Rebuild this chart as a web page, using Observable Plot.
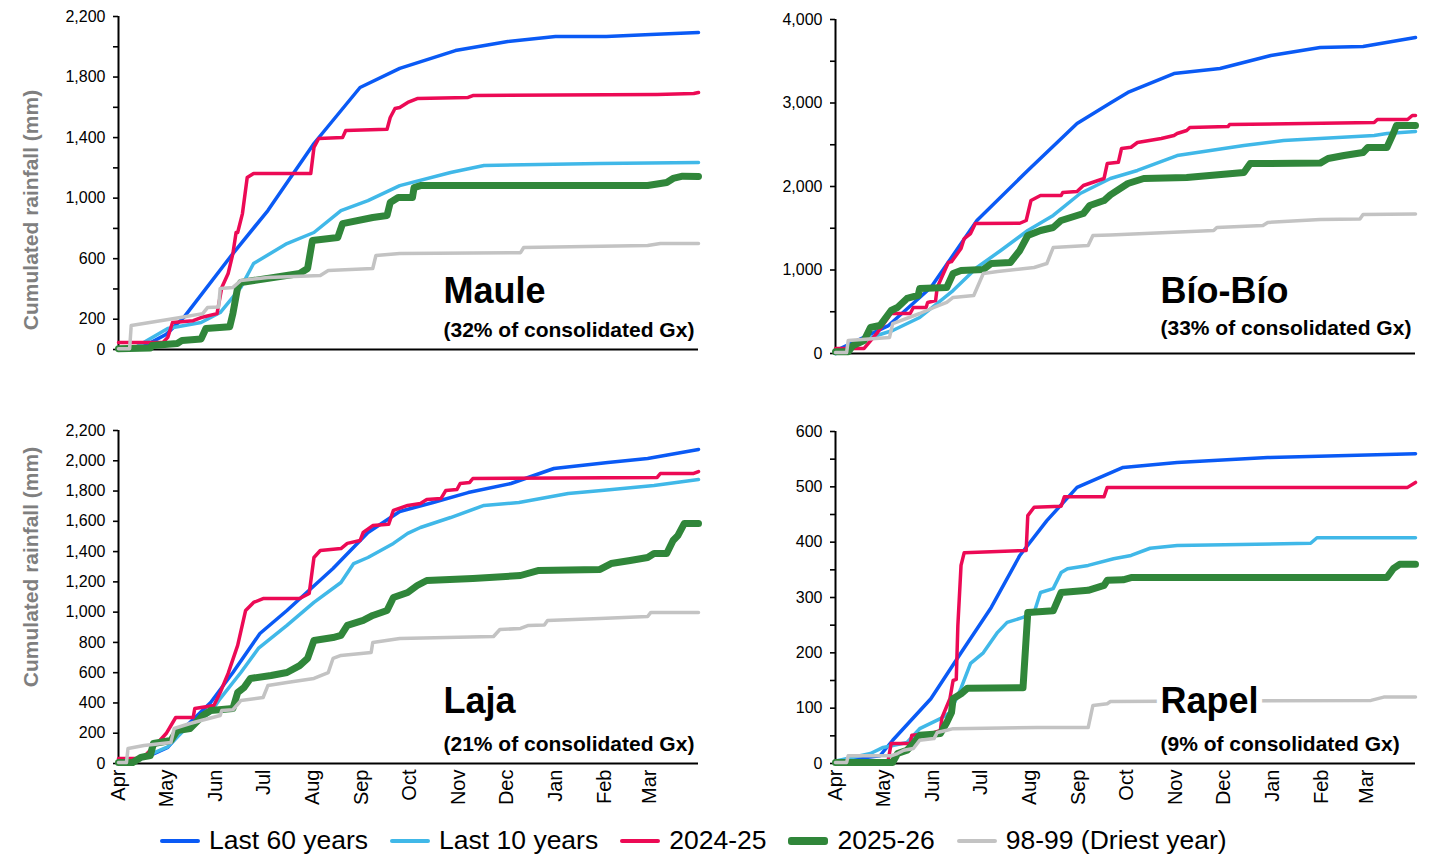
<!DOCTYPE html>
<html>
<head>
<meta charset="utf-8">
<script src="https://cdn.jsdelivr.net/npm/d3@7"></script>
<script src="https://cdn.jsdelivr.net/npm/@observablehq/plot@0.6"></script>
<style>
  body { margin: 0; background: #fff; font-family: "Liberation Sans", Arial, sans-serif; }
  #wrap { position: relative; width: 1433px; height: 856px; overflow: hidden; }
  .panel { position: absolute; }
  #legend { position: absolute; left: 160px; top: 825px; display: flex; align-items: center; gap: 22px; font-size: 26.5px; color: #000; }
  #legend .item { display: flex; align-items: center; gap: 9px; white-space: nowrap; }
  #legend .swatch { display: inline-block; width: 40px; border-radius: 3px; }
</style>
</head>
<body>
<div id="wrap">
  <div id="maule" class="panel" style="left:0;top:0"></div>
  <div id="biobio" class="panel" style="left:717px;top:0"></div>
  <div id="laja" class="panel" style="left:0;top:400px"></div>
  <div id="rapel" class="panel" style="left:717px;top:400px"></div>
  <div id="legend"></div>
</div>
<script>
// Hydrological year runs April -> March; x is the day of that year (0 = 1 April).
const monthLabels = ["Apr", "May", "Jun", "Jul", "Aug", "Sep", "Oct", "Nov", "Dec", "Jan", "Feb", "Mar"];
const monthStartDays = [0, 30, 61, 91, 122, 153, 183, 214, 244, 275, 306, 334];

const seriesNames = ["Last 60 years", "Last 10 years", "2024-25", "2025-26", "98-99 (Driest year)"];
const seriesColors = ["#0a5af5", "#40b8e8", "#ec0a55", "#30863a", "#c3c3c3"];
const seriesWidths = [3.5, 3.5, 3.5, 7, 3.5];

// Cumulated rainfall (mm) by day of the hydrological year: [day, mm]
const maule60 = [[0,0],[12,15],[20,45],[30,100],[41,211],[72,634],[94,918],[123,1361],[152,1731],[177,1857],[212,1975],[245,2035],[275,2068],[307,2068],[335,2081],[365,2094]];
const maule10 = [[0,0],[10,10],[18,60],[31,139],[52,178],[64,244],[77,410],[85,568],[106,700],[123,773],[140,918],[157,984],[177,1083],[209,1169],[230,1216],[303,1229],[365,1236]];
const maule2425 = [[0,46],[28,46],[31,80],[34,178],[47,190],[52,211],[62,237],[65,410],[69,502],[72,634],[74,773],[75,773],[78,898],[81,1136],[85,1163],[121,1163],[123,1335],[126,1394],[141,1400],[143,1447],[169,1455],[171,1533],[174,1592],[177,1599],[182,1632],[188,1658],[220,1665],[223,1678],[339,1685],[362,1691],[365,1698]];
const maule2526 = [[0,5],[20,10],[21,26],[37,40],[40,60],[52,70],[55,139],[70,150],[72,238],[75,410],[77,443],[114,502],[119,535],[122,720],[138,740],[141,832],[160,872],[169,885],[171,971],[176,1004],[185,1004],[186,1070],[190,1083],[333,1083],[345,1103],[349,1130],[355,1145],[365,1143]];
const maule9899 = [[0,5],[7,5],[8,159],[39,211],[53,237],[56,277],[63,280],[64,403],[72,410],[77,456],[94,476],[127,489],[132,522],[160,535],[162,621],[177,634],[253,640],[255,674],[333,687],[341,700],[365,700]];

const bio60 = [[0,0],[3,60],[33,330],[60,790],[89,1593],[121,2192],[152,2754],[173,3000],[184,3126],[213,3353],[242,3413],[274,3569],[305,3665],[332,3677],[365,3785]];
const bio10 = [[0,0],[5,30],[15,120],[22,192],[36,275],[53,431],[74,754],[89,1030],[104,1234],[121,1473],[137,1653],[154,1916],[173,2096],[190,2192],[215,2371],[236,2431],[257,2491],[282,2551],[339,2611],[347,2635],[365,2659]];
const bio2425 = [[0,60],[18,60],[26,240],[35,479],[47,479],[49,551],[57,551],[58,611],[63,635],[64,790],[71,1090],[73,1100],[79,1257],[81,1377],[85,1437],[88,1557],[116,1560],[120,1593],[123,1832],[129,1892],[142,1892],[143,1928],[152,1940],[156,2012],[169,2096],[171,2275],[178,2290],[180,2455],[186,2470],[190,2527],[205,2575],[213,2611],[215,2635],[221,2671],[223,2706],[247,2718],[248,2742],[339,2766],[341,2802],[360,2802],[363,2850],[365,2850]];
const bio2526 = [[0,20],[8,20],[11,96],[18,156],[22,311],[28,335],[35,515],[39,551],[45,659],[52,695],[53,778],[70,790],[74,958],[79,994],[93,1006],[98,1078],[110,1090],[116,1234],[121,1413],[129,1473],[137,1509],[142,1593],[156,1677],[160,1772],[169,1832],[173,1900],[184,2036],[194,2096],[221,2108],[257,2168],[261,2275],[305,2280],[310,2335],[320,2371],[332,2407],[335,2467],[347,2467],[351,2635],[353,2730],[365,2730]];
const bio9899 = [[0,12],[7,12],[8,156],[34,192],[36,359],[53,479],[62,551],[70,611],[74,671],[87,695],[93,958],[102,982],[125,1030],[133,1078],[137,1269],[159,1293],[162,1413],[173,1420],[238,1473],[240,1509],[269,1533],[272,1569],[305,1605],[330,1610],[332,1665],[365,1670]];

const laja60 = [[0,0],[8,7],[20,53],[31,106],[43,251],[58,403],[72,601],[89,859],[106,1011],[135,1288],[157,1526],[177,1665],[198,1724],[220,1790],[247,1850],[274,1949],[308,1989],[333,2015],[365,2075]];
const laja10 = [[0,0],[8,10],[20,60],[31,110],[43,240],[58,337],[64,429],[77,601],[88,760],[106,912],[123,1064],[140,1196],[148,1321],[157,1361],[173,1454],[182,1520],[190,1559],[209,1625],[230,1705],[252,1724],[283,1784],[304,1804],[337,1837],[365,1876]];
const laja2425 = [[0,33],[14,33],[18,66],[26,152],[30,198],[36,304],[47,304],[48,363],[60,383],[64,469],[69,595],[75,780],[80,1011],[85,1064],[91,1090],[114,1090],[120,1123],[123,1361],[127,1407],[140,1420],[144,1454],[152,1473],[154,1526],[160,1572],[170,1580],[173,1672],[182,1705],[190,1718],[194,1744],[203,1751],[206,1804],[213,1810],[215,1850],[221,1857],[223,1883],[339,1890],[341,1916],[362,1916],[365,1929]];
const laja2526 = [[0,7],[9,7],[14,40],[20,53],[22,132],[33,152],[37,218],[45,231],[50,284],[53,317],[58,350],[72,363],[75,469],[79,502],[83,562],[96,581],[106,601],[114,647],[119,694],[123,813],[135,832],[140,846],[144,912],[154,945],[160,978],[169,1011],[173,1097],[182,1130],[188,1176],[194,1209],[223,1222],[253,1242],[264,1275],[303,1282],[310,1321],[322,1341],[333,1361],[337,1387],[345,1387],[349,1473],[352,1506],[356,1585],[365,1585]];
const laja9899 = [[0,7],[5,7],[6,99],[16,119],[33,139],[35,231],[45,264],[52,284],[64,317],[65,350],[72,355],[77,416],[91,436],[94,515],[106,535],[123,562],[132,601],[135,694],[140,714],[159,733],[160,799],[177,826],[236,839],[240,885],[253,892],[258,912],[268,915],[270,945],[303,958],[333,971],[335,998],[365,998]];

const rapel60 = [[0,0],[3,5],[28,14],[36,42],[60,117],[79,200],[98,282],[116,376],[133,439],[152,499],[181,535],[215,544],[272,553],[365,560]];
const rapel10 = [[0,0],[1,5],[22,18],[30,29],[45,38],[53,63],[66,81],[72,92],[79,136],[85,181],[93,200],[102,237],[108,255],[118,264],[125,273],[129,309],[137,316],[142,345],[146,352],[159,358],[175,370],[186,376],[198,389],[215,394],[299,398],[303,408],[365,408]];
const rapel2425 = [[0,3],[33,3],[35,36],[47,36],[48,51],[60,54],[66,60],[67,83],[72,117],[74,150],[76,152],[77,249],[79,358],[81,381],[120,385],[121,448],[125,463],[142,465],[144,482],[169,482],[171,499],[360,499],[365,508]];
const rapel2526 = [[0,2],[36,2],[39,18],[45,24],[49,36],[53,51],[66,54],[70,74],[73,92],[74,117],[79,126],[83,136],[118,137],[121,273],[137,276],[142,309],[159,313],[169,322],[171,331],[181,332],[186,336],[347,336],[351,352],[355,360],[365,360]];
const rapel9899 = [[0,2],[7,2],[8,14],[35,14],[39,18],[43,24],[49,27],[53,42],[62,45],[64,56],[70,60],[74,63],[127,65],[159,65],[162,105],[171,108],[173,112],[337,114],[345,120],[365,120]];

// Y-axis ticks and which of them carry a label
const mauleTicks = d3.range(0, 2201, 200);
const mauleTickLabels = [0, 200, 600, 1000, 1400, 1800, 2200];
const bioTicks = d3.range(0, 4001, 500);
const bioTickLabels = [0, 1000, 2000, 3000, 4000];
const lajaTicks = d3.range(0, 2201, 200);
const lajaTickLabels = d3.range(0, 2201, 200);
const rapelTicks = d3.range(0, 601, 50);
const rapelTickLabels = d3.range(0, 601, 100);

const fmt = d3.format(",");
const fontFamily = "'Liberation Sans', Arial, Helvetica, sans-serif";

function drawPanel(cfg) {
  const marks = [
    Plot.ruleX([0], {stroke: "black", strokeWidth: 2}),
    Plot.ruleY([0], {stroke: "black", strokeWidth: 2}),
    Plot.axisY(cfg.ticks, {
      tickSize: 5, tickPadding: 8, fontSize: 16, strokeWidth: 1.6, label: null,
      tickFormat: d => cfg.tickLabels.includes(d) ? fmt(d) : ""
    })
  ];
  if (cfg.showMonths) {
    marks.push(Plot.axisX(monthStartDays, {
      tickRotate: -90, tickSize: 0, tickPadding: 6, fontSize: 20, label: null,
      tickFormat: d => monthLabels[monthStartDays.indexOf(d)]
    }));
  }
  cfg.series.forEach((pts, k) => {
    marks.push(Plot.line(pts.map(([day, mm]) => ({day, mm})), {
      x: "day", y: "mm", stroke: seriesColors[k], strokeWidth: seriesWidths[k],
      strokeLinejoin: "round", strokeLinecap: "round"
    }));
  });
  if (cfg.yTitle) {
    marks.push(Plot.text(["Cumulated rainfall (mm)"], {
      frameAnchor: "left", rotate: -90, dx: -87, dy: cfg.yTitleDy,
      textAnchor: "middle", lineAnchor: "middle",
      fontSize: 21, fontWeight: "bold", fill: "#7f7f7f"
    }));
  }
  marks.push(Plot.text([cfg.name], {
    frameAnchor: "bottom-left", dx: 325, dy: -cfg.titleLift,
    textAnchor: "start", lineAnchor: "bottom",
    fontSize: 36, fontWeight: "bold", fill: "black",
    stroke: "white", strokeWidth: 12
  }));
  marks.push(Plot.text([cfg.share], {
    frameAnchor: "bottom-left", dx: 325, dy: -cfg.shareLift,
    textAnchor: "start", lineAnchor: "bottom",
    fontSize: 21, fontWeight: "bold", fill: "black"
  }));

  const chart = Plot.plot({
    width: 716,
    height: cfg.height,
    marginLeft: 118,
    marginRight: 18,
    marginTop: cfg.marginTop,
    marginBottom: cfg.marginBottom,
    style: {fontFamily, color: "black", background: "white", overflow: "visible"},
    x: {domain: [0, 365], ...(cfg.showMonths ? {} : {axis: null})},
    y: {domain: [0, cfg.yMax]},
    marks
  });
  document.getElementById(cfg.id).appendChild(chart);
}

drawPanel({id: "maule", name: "Maule", share: "(32% of consolidated Gx)",
  series: [maule60, maule10, maule2425, maule2526, maule9899],
  yMax: 2200, ticks: mauleTicks, tickLabels: mauleTickLabels,
  height: 400, marginTop: 16, marginBottom: 51, showMonths: false,
  yTitle: true, yTitleDy: 27, titleLift: 47, shareLift: 13});

drawPanel({id: "biobio", name: "Bío-Bío", share: "(33% of consolidated Gx)",
  series: [bio60, bio10, bio2425, bio2526, bio9899],
  yMax: 4000, ticks: bioTicks, tickLabels: bioTickLabels,
  height: 400, marginTop: 19, marginBottom: 47, showMonths: false,
  yTitle: false, titleLift: 51, shareLift: 19});

drawPanel({id: "laja", name: "Laja", share: "(21% of consolidated Gx)",
  series: [laja60, laja10, laja2425, laja2526, laja9899],
  yMax: 2200, ticks: lajaTicks, tickLabels: lajaTickLabels,
  height: 420, marginTop: 30, marginBottom: 57, showMonths: true,
  yTitle: true, yTitleDy: -30, titleLift: 51, shareLift: 13});

drawPanel({id: "rapel", name: "Rapel", share: "(9% of consolidated Gx)",
  series: [rapel60, rapel10, rapel2425, rapel2526, rapel9899],
  yMax: 600, ticks: rapelTicks, tickLabels: rapelTickLabels,
  height: 420, marginTop: 31, marginBottom: 57, showMonths: true,
  yTitle: false, titleLift: 51, shareLift: 13});

// Legend row under the panels
const legend = document.getElementById("legend");
seriesNames.forEach((name, k) => {
  const item = document.createElement("div");
  item.className = "item";
  const sw = document.createElement("span");
  sw.className = "swatch";
  sw.style.background = seriesColors[k];
  sw.style.height = (k === 3 ? 8 : 4) + "px";
  const label = document.createElement("span");
  label.textContent = name;
  item.append(sw, label);
  legend.appendChild(item);
});
</script>
</body>
</html>
